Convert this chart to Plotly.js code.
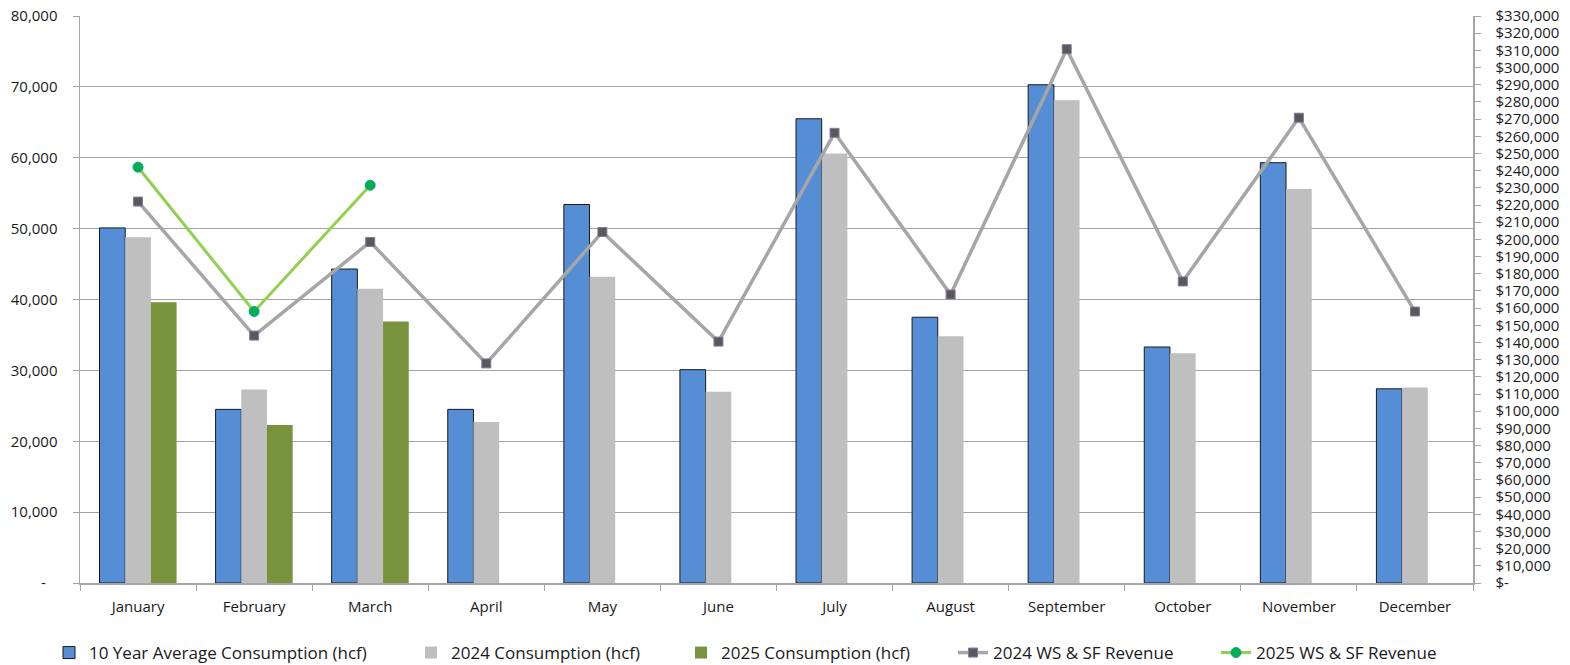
<!DOCTYPE html>
<html>
<head>
<meta charset="utf-8">
<script src="https://cdn.plot.ly/plotly-3.0.1.min.js"></script>
<style>
  html, body { margin: 0; padding: 0; background: #fff; }
  #chart { width: 1570px; height: 665px; }
</style>
</head>
<body>
<div id="chart"></div>
<script>
// Monthly consumption (hcf) and WS & SF revenue ($)
const months = ['January', 'February', 'March', 'April', 'May', 'June',
  'July', 'August', 'September', 'October', 'November', 'December'];

const avgConsumption10yr = [50100, 24500, 44300, 24500, 53400, 30100, 65500, 37500, 70300, 33300, 59300, 27400];
const consumption2024 = [48800, 27300, 41500, 22700, 43200, 27000, 60600, 34800, 68100, 32400, 55600, 27600];
const consumption2025 = [39600, 22300, 36900, null, null, null, null, null, null, null, null, null];

const revenue2024 = [222000, 144000, 198500, 127800, 204300, 140500, 262000, 167900, 310700, 175500, 270800, 158000];
const revenue2025 = [242000, 158000, 231500, null, null, null, null, null, null, null, null, null];

const leftTickVals = [0, 10000, 20000, 30000, 40000, 50000, 60000, 70000, 80000];
const leftTickText = ['-\u00a0\u00a0\u00a0', '10,000', '20,000', '30,000', '40,000', '50,000', '60,000', '70,000', '80,000'];

const rightTickVals = [0, 10000, 20000, 30000, 40000, 50000, 60000, 70000, 80000, 90000,
  100000, 110000, 120000, 130000, 140000, 150000, 160000, 170000, 180000, 190000,
  200000, 210000, 220000, 230000, 240000, 250000, 260000, 270000, 280000, 290000,
  300000, 310000, 320000, 330000];
const rightTickText = ['$-', '$10,000', '$20,000', '$30,000', '$40,000', '$50,000', '$60,000', '$70,000', '$80,000', '$90,000',
  '$100,000', '$110,000', '$120,000', '$130,000', '$140,000', '$150,000', '$160,000', '$170,000', '$180,000', '$190,000',
  '$200,000', '$210,000', '$220,000', '$230,000', '$240,000', '$250,000', '$260,000', '$270,000', '$280,000', '$290,000',
  '$300,000', '$310,000', '$320,000', '$330,000'];

const FONT = '"Open Sans", "DejaVu Sans", sans-serif';
const TICK_COLOR = '#1a1a1a';
const GRID = '#a3a3a3';

const traces = [
  {
    type: 'bar', name: '10 Year Average Consumption (hcf)', x: months, y: avgConsumption10yr,
    marker: { color: '#558ed5', line: { color: '#1a1a1a', width: 1 } },
    legend: 'legend', hoverinfo: 'skip'
  },
  {
    type: 'bar', name: '2024 Consumption (hcf)', x: months, y: consumption2024,
    marker: { color: '#bfbfbf', line: { width: 0 } },
    legend: 'legend2', hoverinfo: 'skip'
  },
  {
    type: 'bar', name: '2025 Consumption (hcf)', x: months, y: consumption2025,
    marker: { color: '#77933c', line: { width: 0 } },
    legend: 'legend3', hoverinfo: 'skip'
  },
  {
    type: 'scatter', mode: 'lines+markers', name: '2024 WS & SF Revenue', x: months, y: revenue2024,
    yaxis: 'y2', line: { color: '#a6a6a6', width: 3.5 },
    marker: { symbol: 'square', size: 9, color: '#595959', line: { color: '#8a76a8', width: 1 } },
    legend: 'legend4', hoverinfo: 'skip'
  },
  {
    type: 'scatter', mode: 'lines+markers', name: '2025 WS & SF Revenue', x: months, y: revenue2025,
    yaxis: 'y2', connectgaps: false, line: { color: '#92d050', width: 3 },
    marker: { symbol: 'circle', size: 10, color: '#00b050', line: { color: '#13a08a', width: 1 } },
    legend: 'legend5', hoverinfo: 'skip'
  }
];

function legendAt(textStartPx) {
  return {
    xref: 'container', yref: 'container',
    x: (textStartPx - 40) / 1570, xanchor: 'left',
    y: (665 - 653) / 665, yanchor: 'middle',
    orientation: 'h', bgcolor: 'rgba(0,0,0,0)', borderwidth: 0,
    font: { family: FONT, size: 17, color: '#1a1a1a' }
  };
}

const layout = {
  width: 1570, height: 665,
  margin: { l: 80, r: 97, t: 16, b: 82 },
  paper_bgcolor: '#ffffff', plot_bgcolor: '#ffffff',
  barmode: 'group', bargap: 0.336, bargroupgap: 0,
  showlegend: true,
  legend: legendAt(89),
  legend2: legendAt(451),
  legend3: legendAt(721),
  legend4: legendAt(993),
  legend5: legendAt(1256),
  xaxis: {
    type: 'category', range: [-0.5, months.length - 0.5],
    tickson: 'boundaries', ticks: 'outside', ticklen: 6, tickcolor: '#a6a6a6',
    showline: true, linecolor: '#a6a6a6', linewidth: 1.5, showgrid: false, zeroline: false,
    tickfont: { family: FONT, size: 15, color: TICK_COLOR }, ticklabelstandoff: 9
  },
  yaxis: {
    range: [0, 80000], tickvals: leftTickVals, ticktext: leftTickText,
    ticks: 'outside', ticklen: 6, tickcolor: GRID,
    showline: true, linecolor: '#a6a6a6', linewidth: 1.5,
    showgrid: true, gridcolor: GRID, gridwidth: 1, zeroline: false,
    tickfont: { family: FONT, size: 15, color: TICK_COLOR }, ticklabelstandoff: 12
  },
  yaxis2: {
    overlaying: 'y', side: 'right', range: [0, 330000],
    tickvals: rightTickVals, ticktext: rightTickText,
    ticks: 'outside', ticklen: 6, tickcolor: '#a6a6a6',
    showline: true, linecolor: '#a6a6a6', linewidth: 1.5,
    showgrid: false, zeroline: false,
    tickfont: { family: FONT, size: 15, color: TICK_COLOR }, ticklabelstandoff: 12
  }
};

Plotly.newPlot('chart', traces, layout, { displayModeBar: false, staticPlot: true });
</script>
</body>
</html>
